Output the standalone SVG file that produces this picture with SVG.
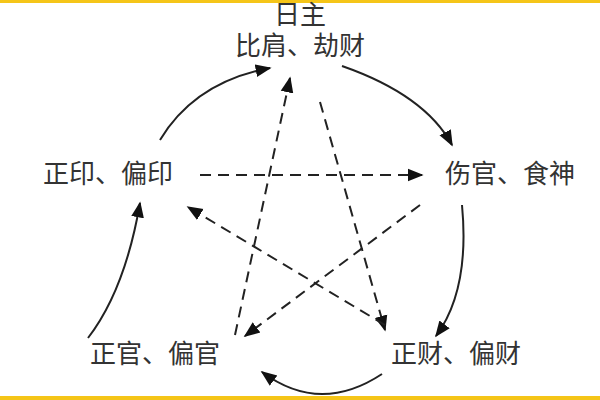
<svg xmlns="http://www.w3.org/2000/svg" width="600" height="400" viewBox="0 0 600 400">
<defs>
<style>
.t{font-family:"Noto Sans CJK SC","Liberation Serif",serif;font-size:26px;fill:#333}
.s{fill:none;stroke:#222;stroke-width:2}
.d{fill:none;stroke:#222;stroke-width:2;stroke-dasharray:11 7}
</style>
<marker id="b" viewBox="0 0 10 10" refX="9" refY="5" markerWidth="16" markerHeight="16" markerUnits="userSpaceOnUse" orient="auto"><path d="M0,1 L10,5 L0,9 z" fill="#111"/></marker>
</defs>
<rect width="600" height="400" fill="#fff"/>
<rect width="600" height="3" fill="#f5c518"/>
<rect y="396" width="600" height="4" fill="#f5c518"/>
<g id="connectors">
<path class="s" d="M160,140 Q195,82 270,68" marker-end="url(#b)"/>
<path class="s" d="M342,66 Q425,95 452,145" marker-end="url(#b)"/>
<path class="s" d="M462,205 Q470,290 436,336" marker-end="url(#b)"/>
<path class="s" d="M382,374 Q320,415 262,372" marker-end="url(#b)"/>
<path class="s" d="M88,338 Q125,290 140,203" marker-end="url(#b)"/>
<path class="d" d="M200,175 L422,175" marker-end="url(#b)"/>
<path class="d" d="M320,102 L385,330" marker-end="url(#b)"/>
<path class="d" d="M420,205 L245,336" marker-end="url(#b)"/>
<path class="d" d="M385,325 L188,207" marker-end="url(#b)"/>
<path class="d" d="M235,335 L290,78" marker-end="url(#b)"/>
</g>
<g id="n0"><text class="t" x="300" y="24" text-anchor="middle" font-size="19">日主</text><text class="t" x="300" y="55" text-anchor="middle">比肩、劫财</text></g>
<g id="n1"><text class="t" x="510" y="183" text-anchor="middle">伤官、食神</text></g>
<g id="n2"><text class="t" x="456" y="363" text-anchor="middle">正财、偏财</text></g>
<g id="n3"><text class="t" x="155" y="363" text-anchor="middle">正官、偏官</text></g>
<g id="n4"><text class="t" x="108" y="183" text-anchor="middle">正印、偏印</text></g>
</svg>
